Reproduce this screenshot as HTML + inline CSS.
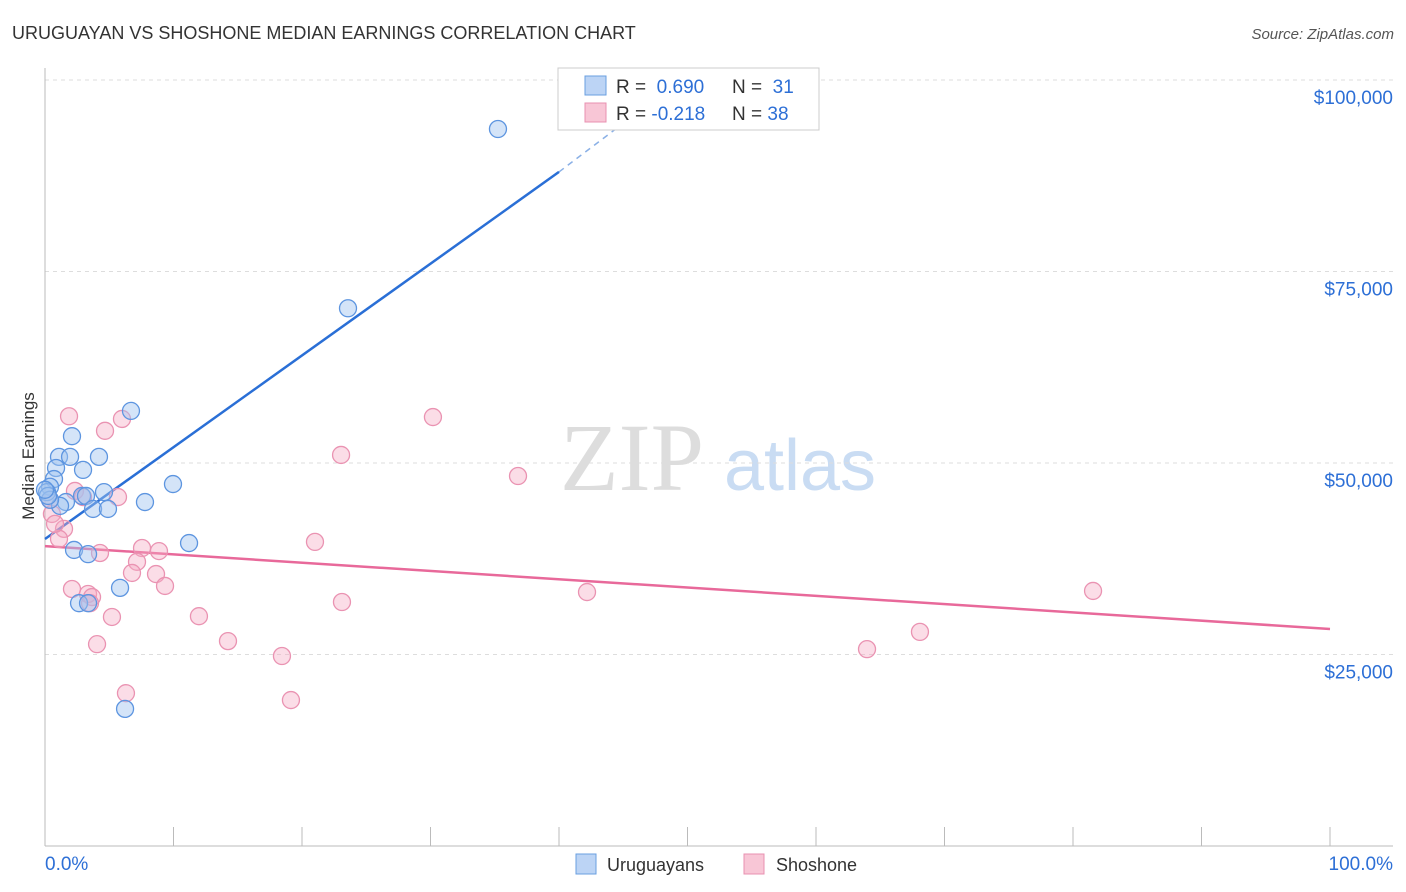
<!DOCTYPE html>
<html><head><meta charset="utf-8"><style>
body{margin:0;background:#fff;font-family:"Liberation Sans",sans-serif;}
svg{display:block}
</style></head><body>
<svg id="chart" width="1406" height="892">
<text x="12" y="39" font-size="18" fill="#333">URUGUAYAN VS SHOSHONE MEDIAN EARNINGS CORRELATION CHART</text>
<text x="1394" y="39" font-size="15" fill="#555" font-style="italic" text-anchor="end">Source: ZipAtlas.com</text>
<text transform="translate(34,456) rotate(-90)" font-size="17" fill="#333" text-anchor="middle">Median Earnings</text>
<g>
<text x="632" y="490" font-size="96" fill="#ddd" font-family="Liberation Serif,serif" text-anchor="middle">ZIP</text>
<text x="800" y="490" font-size="72" fill="#c9dcf3" text-anchor="middle">atlas</text>
</g>
<g id="grid"></g><g id="axes"></g><g id="lines"></g><g id="pts"></g>
<g>
<rect x="558" y="68" width="261" height="62" fill="#fff" stroke="#ccc"/>
<rect x="585" y="76" width="21" height="19" fill="#bcd4f5" stroke="#6a9fe0"/>
<text x="616" y="93" font-size="19" fill="#333">R = <tspan fill="#2d6fd6">&#160;0.690</tspan><tspan x="732">N = </tspan><tspan fill="#2d6fd6">&#160;31</tspan></text>
<rect x="585" y="103" width="21" height="19" fill="#f8c6d6" stroke="#e890b0"/>
<text x="616" y="120" font-size="19" fill="#333">R = <tspan fill="#2d6fd6">-0.218</tspan><tspan x="732">N = </tspan><tspan fill="#2d6fd6">38</tspan></text>
</g>
<g>
<rect x="576" y="854" width="20" height="20" fill="#bcd4f5" stroke="#6a9fe0"/>
<text x="607" y="871" font-size="18" fill="#333">Uruguayans</text>
<rect x="744" y="854" width="20" height="20" fill="#f8c6d6" stroke="#e890b0"/>
<text x="776" y="871" font-size="18" fill="#333">Shoshone</text>
</g>
</svg>
<script>
const yTicks=[25000,50000,75000,100000];
const yTickLabels=["$25,000","$50,000","$75,000","$100,000"];
const blueX=[35.25,23.58,6.69,2.10,1.09,1.95,4.20,0.86,2.96,0.70,9.96,0.39,0.16,4.59,2.88,3.19,1.63,7.78,1.17,3.74,4.90,11.21,2.26,3.35,5.84,2.65,3.35,6.23,0.39,0.23,0];
const blueY=[93600,70200,56800,53500,50800,50800,50800,49350,49100,47900,47250,46900,46200,46200,45700,45700,44900,44900,44400,44000,44000,39550,38650,38100,33700,31700,31700,17900,45200,45700,46500];
const pinkX=[1.87,30.19,5.99,4.67,23.04,36.81,5.68,2.33,2.96,0.54,1.48,1.09,21.01,7.55,8.87,4.28,7.16,6.77,8.64,9.34,2.10,42.18,81.56,3.35,3.66,23.11,3.50,5.21,11.98,14.24,4.05,68.09,63.97,18.44,6.30,19.14,0.39,0.78];
const pinkY=[56100,56000,55750,54200,51050,48300,45550,46350,45550,43350,41400,40100,39700,38900,38500,38250,37100,35650,35500,33950,33550,33150,33300,32900,32500,31850,31700,29900,30000,26750,26350,27950,25700,24800,19950,19050,45200,42050];
const blueLine=[40080,88000,96000]; // at x=0, 40, 46.3
const blueLineX=[0,40,46.3];
const pinkLine=[39150,28330];
const pinkLineX=[0,100];

const NS="http://www.w3.org/2000/svg";
const xs=v=>45+v*12.85;
const ys=v=>463-(v-50000)*191.5/25000;
function mk(tag,attrs,parent){const e=document.createElementNS(NS,tag);for(const k in attrs)e.setAttribute(k,attrs[k]);document.getElementById(parent).appendChild(e);return e;}
yTicks.forEach((t,i)=>{
  const g=mk('line',{x1:45,x2:1393,y1:ys(t),y2:ys(t),stroke:'#ddd','stroke-dasharray':'4,4'},'grid');
  
  
  const tx=mk('text',{x:1393,y:ys(t)+24,'font-size':19,fill:'#2d6fd6','text-anchor':'end'},'axes');
  tx.textContent=yTickLabels[i];
  
  
});
const ax=mk('line',{x1:45,x2:45,y1:68,y2:846,stroke:'#bbb'},'axes');


const bx=mk('line',{x1:45,x2:1393,y1:846,y2:846,stroke:'#bbb'},'axes');


for(let i=0;i<=10;i++){
  const t=mk('line',{x1:xs(i*10),x2:xs(i*10),y1:827,y2:846,stroke:'#bbb'},'axes');
  
  
}
const l0=mk('text',{x:45,y:870,'font-size':19,fill:'#2d6fd6'},'axes');l0.textContent='0.0%';


const l1=mk('text',{x:1393,y:870,'font-size':19,fill:'#2d6fd6','text-anchor':'end'},'axes');l1.textContent='100.0%';



const bl=mk('line',{x1:xs(blueLineX[0]),y1:ys(blueLine[0]),x2:xs(blueLineX[1]),y2:ys(blueLine[1]),stroke:'#2a6fd6','stroke-width':2.5},'lines');


const bd=mk('line',{x1:xs(blueLineX[1]),y1:ys(blueLine[1]),x2:xs(blueLineX[2]),y2:ys(blueLine[2]),stroke:'#8ab0e6','stroke-width':1.5,'stroke-dasharray':'6,5'},'lines');


const pl=mk('line',{x1:xs(pinkLineX[0]),y1:ys(pinkLine[0]),x2:xs(pinkLineX[1]),y2:ys(pinkLine[1]),stroke:'#e8699a','stroke-width':2.5},'lines');



pinkX.forEach((x,i)=>{
  const c=mk('circle',{cx:xs(x),cy:ys(pinkY[i]),r:8.5,fill:'rgba(244,170,195,0.4)',stroke:'#ea93b2','stroke-width':1.3},'pts');
  
  
});
blueX.forEach((x,i)=>{
  const c=mk('circle',{cx:xs(x),cy:ys(blueY[i]),r:8.5,fill:'rgba(160,196,240,0.45)',stroke:'#5d95e0','stroke-width':1.3},'pts');
  
  
});
</script>
</body></html>
